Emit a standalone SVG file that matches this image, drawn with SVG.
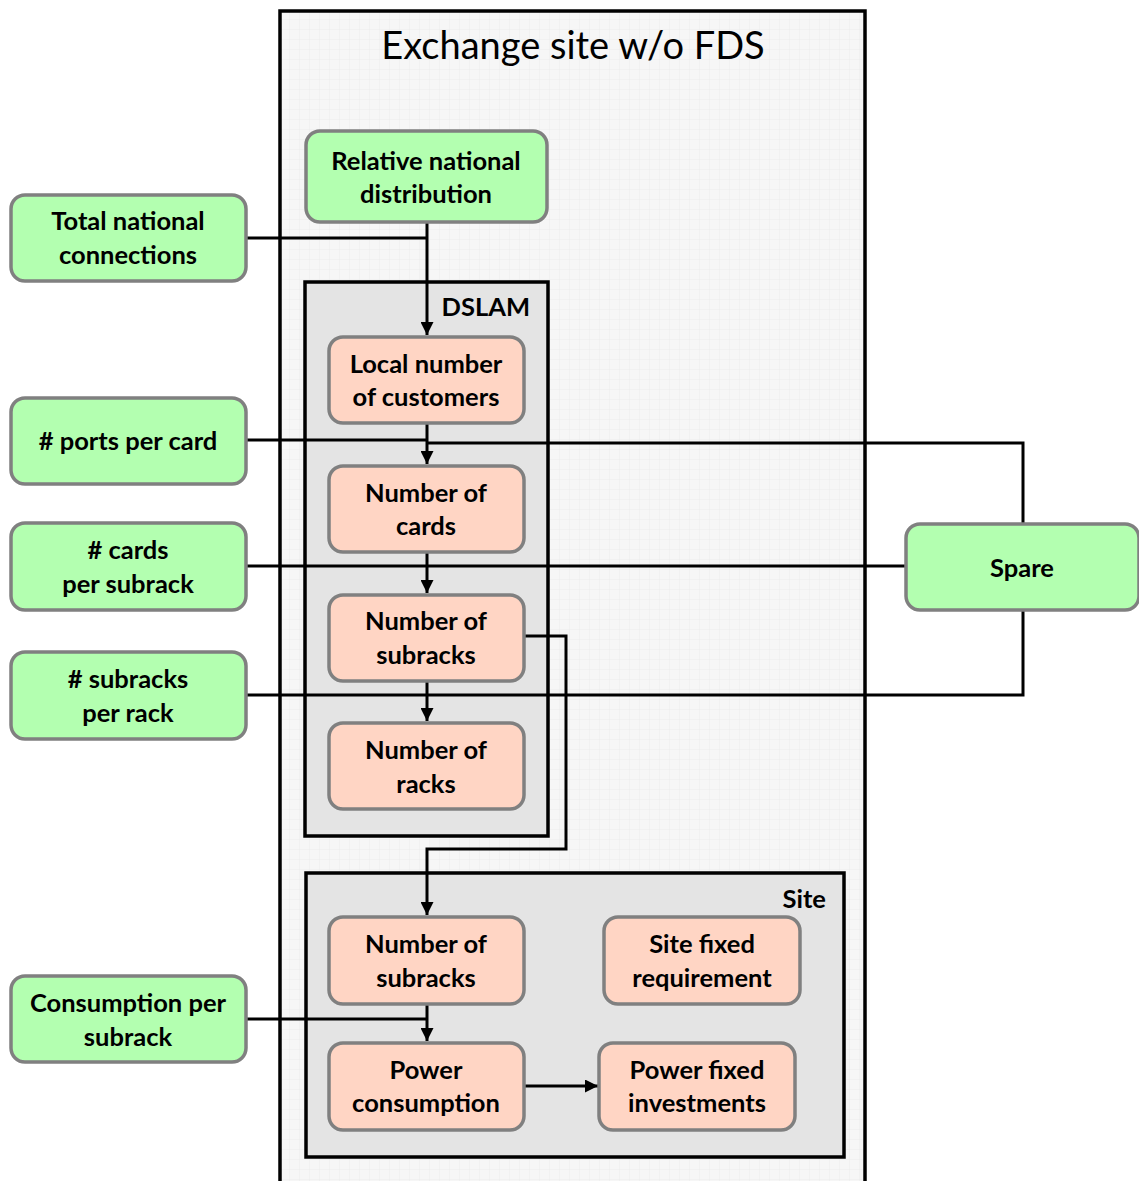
<svg xmlns="http://www.w3.org/2000/svg" width="1139" height="1181" viewBox="0 0 1139 1181">
<defs>
<pattern id="grid" width="10" height="10" patternUnits="userSpaceOnUse">
<rect width="10" height="10" fill="#f6f6f6"/>
<path d="M10 0V10M0 10H10" stroke="#ececec" stroke-width="1" fill="none"/>
</pattern>
<marker id="arr" viewBox="0 0 13 13" refX="13" refY="6.5" markerWidth="13" markerHeight="13" markerUnits="userSpaceOnUse" orient="auto">
<path d="M0 0L13 6.5L0 13z" fill="#000"/>
</marker>
<style>
.g{fill:#b3ffb0;stroke:#808080;stroke-width:3.5}
.p{fill:#ffd5c4;stroke:#808080;stroke-width:3.5}
.t{font-family:Lato,"Liberation Sans",sans-serif;font-weight:bold;font-size:25.5px;fill:#000;text-anchor:middle}
.c{fill:none;stroke:#000;stroke-width:3}
.box{fill:#e4e4e4;stroke:#000;stroke-width:3.5}
</style>
</defs>
<rect width="1139" height="1181" fill="#fff"/>
<g id="exchange">
<rect x="280" y="11" width="585" height="1185" fill="url(#grid)" stroke="#000" stroke-width="3.5"/>
<text x="573" y="59" font-family="Lato,'Liberation Sans',sans-serif" font-size="38" text-anchor="middle">Exchange site w/o FDS</text>
</g>
<g id="dslam">
<rect class="box" x="305" y="282" width="243" height="554"/>
<text class="t" x="530" y="316" style="text-anchor:end">DSLAM</text>
</g>
<g id="site">
<rect class="box" x="306" y="873" width="538" height="284"/>
<text class="t" x="826" y="908" style="text-anchor:end">Site</text>
</g>
<g id="connectors">
<path class="c" d="M246 238H427"/>
<path class="c" d="M427 223V335" marker-end="url(#arr)"/>
<path class="c" d="M246 440H427"/>
<path class="c" d="M427 443H1023V523"/>
<path class="c" d="M427 424V464" marker-end="url(#arr)"/>
<path class="c" d="M246 566H905"/>
<path class="c" d="M427 553V593" marker-end="url(#arr)"/>
<path class="c" d="M246 695H1023V610"/>
<path class="c" d="M427 682V721" marker-end="url(#arr)"/>
<path class="c" d="M524 636H566V849H427V915" marker-end="url(#arr)"/>
<path class="c" d="M246 1019H427"/>
<path class="c" d="M427 1005V1041" marker-end="url(#arr)"/>
<path class="c" d="M525 1086H598" marker-end="url(#arr)"/>
</g>
<g id="relative-national-distribution">
<rect class="g" x="306" y="131" width="241" height="91" rx="14"/>
<text class="t" x="426" y="170">Relative national</text>
<text class="t" x="426" y="203">distribution</text>
</g>
<g id="total-national-connections">
<rect class="g" x="11" y="195" width="235" height="86" rx="14"/>
<text class="t" x="128" y="230">Total national</text>
<text class="t" x="128" y="264">connections</text>
</g>
<g id="ports-per-card">
<rect class="g" x="11" y="398" width="235" height="86" rx="14"/>
<text class="t" x="128" y="450"># ports per card</text>
</g>
<g id="cards-per-subrack">
<rect class="g" x="11" y="523" width="235" height="87" rx="14"/>
<text class="t" x="128" y="559"># cards</text>
<text class="t" x="128" y="593">per subrack</text>
</g>
<g id="subracks-per-rack">
<rect class="g" x="11" y="652" width="235" height="87" rx="14"/>
<text class="t" x="128" y="688"># subracks</text>
<text class="t" x="128" y="722">per rack</text>
</g>
<g id="consumption-per-subrack">
<rect class="g" x="11" y="976" width="235" height="86" rx="14"/>
<text class="t" x="128" y="1012">Consumption per</text>
<text class="t" x="128" y="1046">subrack</text>
</g>
<g id="spare">
<rect class="g" x="906" y="524" width="233" height="86" rx="14"/>
<text class="t" x="1022" y="577">Spare</text>
</g>
<g id="local-number-of-customers">
<rect class="p" x="329" y="337" width="195" height="86" rx="14"/>
<text class="t" x="426" y="373">Local number</text>
<text class="t" x="426" y="406">of customers</text>
</g>
<g id="number-of-cards">
<rect class="p" x="329" y="466" width="195" height="86" rx="14"/>
<text class="t" x="426" y="502">Number of</text>
<text class="t" x="426" y="535">cards</text>
</g>
<g id="number-of-subracks">
<rect class="p" x="329" y="595" width="195" height="86" rx="14"/>
<text class="t" x="426" y="630">Number of</text>
<text class="t" x="426" y="664">subracks</text>
</g>
<g id="number-of-racks">
<rect class="p" x="329" y="723" width="195" height="86" rx="14"/>
<text class="t" x="426" y="759">Number of</text>
<text class="t" x="426" y="793">racks</text>
</g>
<g id="site-number-of-subracks">
<rect class="p" x="329" y="917" width="195" height="87" rx="14"/>
<text class="t" x="426" y="953">Number of</text>
<text class="t" x="426" y="987">subracks</text>
</g>
<g id="site-fixed-requirement">
<rect class="p" x="604" y="917" width="196" height="87" rx="14"/>
<text class="t" x="702" y="953">Site fixed</text>
<text class="t" x="702" y="987">requirement</text>
</g>
<g id="power-consumption">
<rect class="p" x="329" y="1043" width="195" height="87" rx="14"/>
<text class="t" x="426" y="1079">Power</text>
<text class="t" x="426" y="1112">consumption</text>
</g>
<g id="power-fixed-investments">
<rect class="p" x="599" y="1043" width="196" height="87" rx="14"/>
<text class="t" x="697" y="1079">Power fixed</text>
<text class="t" x="697" y="1112">investments</text>
</g>
</svg>
